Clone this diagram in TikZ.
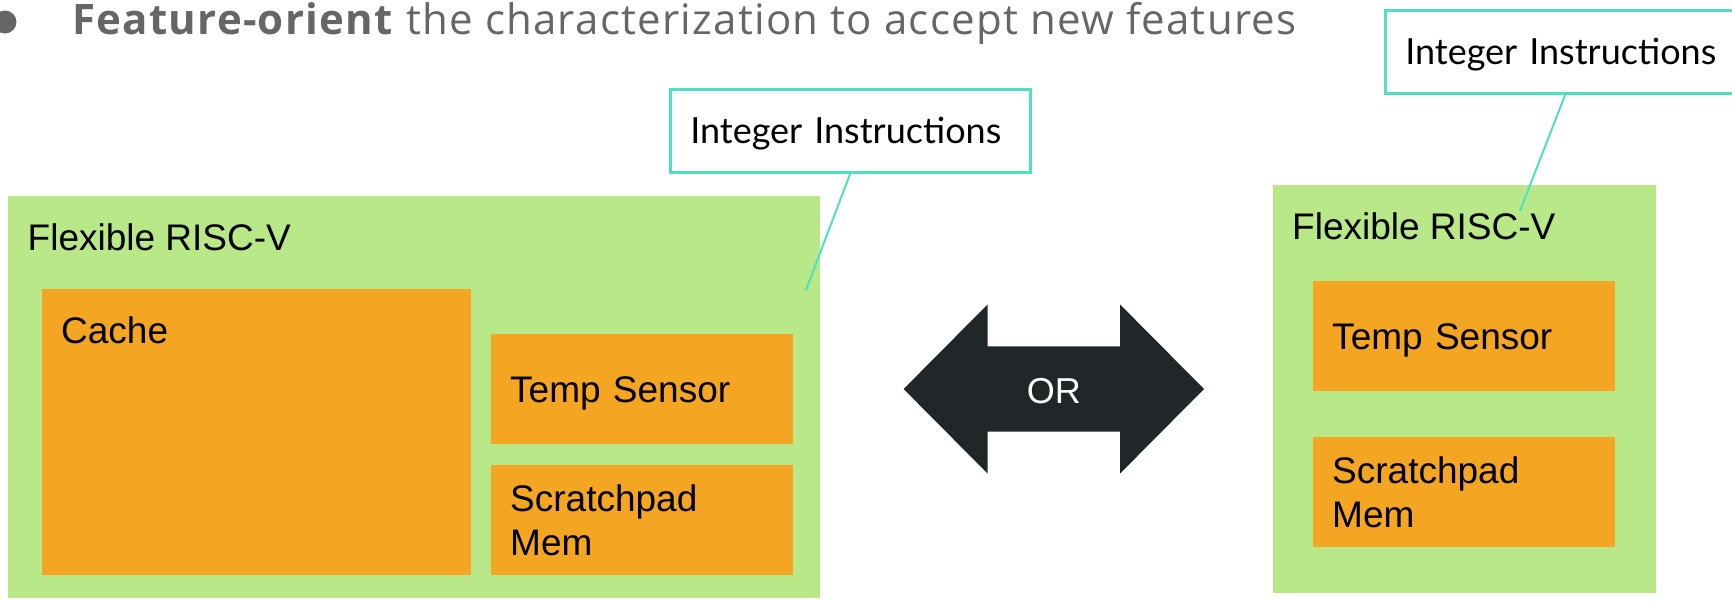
\documentclass[tikz,border=0pt]{standalone}
\usepackage{fontspec}
\setmainfont{Liberation Sans}
\newfontfamily\headfont[LetterSpace=3.0]{Open Sans}
\newfontfamily\notefont{Lato}
\definecolor{corefill}{HTML}{B9E888}
\definecolor{unitfill}{HTML}{F4A623}
\definecolor{calloutline}{HTML}{4FE0C0}
\definecolor{arrowfill}{HTML}{212729}
\definecolor{headgray}{HTML}{666666}
\tikzset{
  core/.style={fill=corefill, draw=none, inner sep=0pt, anchor=north west},
  unit/.style={fill=unitfill, draw=none, anchor=north west, inner ysep=0pt,
    inner xsep=19pt, align=left, font=\fontsize{37}{44}\selectfont},
  boxlabel/.style={font=\fontsize{37}{44}\selectfont, inner sep=0pt},
  callout/.style={draw=calloutline, line width=2.5pt, fill=white, anchor=north west,
    minimum width=360pt, minimum height=83pt, inner xsep=20pt, inner ysep=0pt,
    text width=320pt, align=left, text height=25pt, text depth=0pt,
    font=\notefont\fontsize{36}{40}\selectfont},
  pointer/.style={draw=calloutline, line width=2pt},
}
\begin{document}
\begin{tikzpicture}[x=1pt, y=-1pt]
\useasboundingbox (0,0) rectangle (1732,600);
\clip (0,0) rectangle (1732,600);

% heading line with bullet
\fill[headgray] (5,22) circle (11.5);
\node[anchor=base west, inner sep=0pt, text=headgray,
  font=\headfont\fontsize{42}{48}\selectfont] (head) at (72,34)
  {\textbf{Feature-orient} the characterization to accept new features};

% left core: cache + sensor + scratchpad
\node[core, minimum width=812pt, minimum height=402pt,
  label={[anchor=base west, boxlabel, xshift=19.5pt, yshift=-54pt]north west:Flexible RISC-V}]
  (coreA) at (8,196) {};
\node[unit, minimum width=429pt, minimum height=286pt,
  label={[anchor=base west, boxlabel, xshift=19pt, yshift=-54pt]north west:Cache}]
  (cache) at (42,289) {};
\node[unit, minimum width=302pt, minimum height=110pt, text width=264pt,
  text height=27pt, text depth=0pt] (tempA) at (491,334) {Temp Sensor};
\node[unit, minimum width=302pt, minimum height=110pt, text width=264pt]
  (padA) at (491,465) {Scratchpad\\Mem};

% right core: sensor + scratchpad only
\node[core, minimum width=383pt, minimum height=408pt,
  label={[anchor=base west, boxlabel, xshift=19pt, yshift=-54pt]north west:Flexible RISC-V}]
  (coreB) at (1273,185) {};
\node[unit, minimum width=302pt, minimum height=110pt, text width=264pt,
  text height=27pt, text depth=0pt] (tempB) at (1313,281) {Temp Sensor};
\node[unit, minimum width=302pt, minimum height=110pt, text width=264pt]
  (padB) at (1313,437) {Scratchpad\\Mem};

% double-headed "OR" arrow
\coordinate (orc) at (1053.8,389);
\fill[arrowfill] (orc) ++(-150.2,0) -- ++(83.9,-84.5) -- ++(0,41.9) -- ++(132.6,0)
  -- ++(0,-41.9) -- ++(83.9,84.5) -- ++(-83.9,84.5) -- ++(0,-41.9) -- ++(-132.6,0)
  -- ++(0,41.9) -- cycle;
\node[text=white, inner sep=0pt, font=\fontsize{36}{40}\selectfont,
  text height=25pt, text depth=0pt] (or) at (1053.8,390.5) {OR};

% callouts
\node[callout] (insA) at (669,88) {Integer Instructions};
\coordinate (tipA) at (806,290);
\draw[pointer] (insA.south) -- (tipA);

\node[callout] (insB) at (1384,9) {Integer Instructions};
\coordinate (tipB) at (1520,211);
\draw[pointer] (insB.south) -- (tipB);
\end{tikzpicture}
\end{document}
